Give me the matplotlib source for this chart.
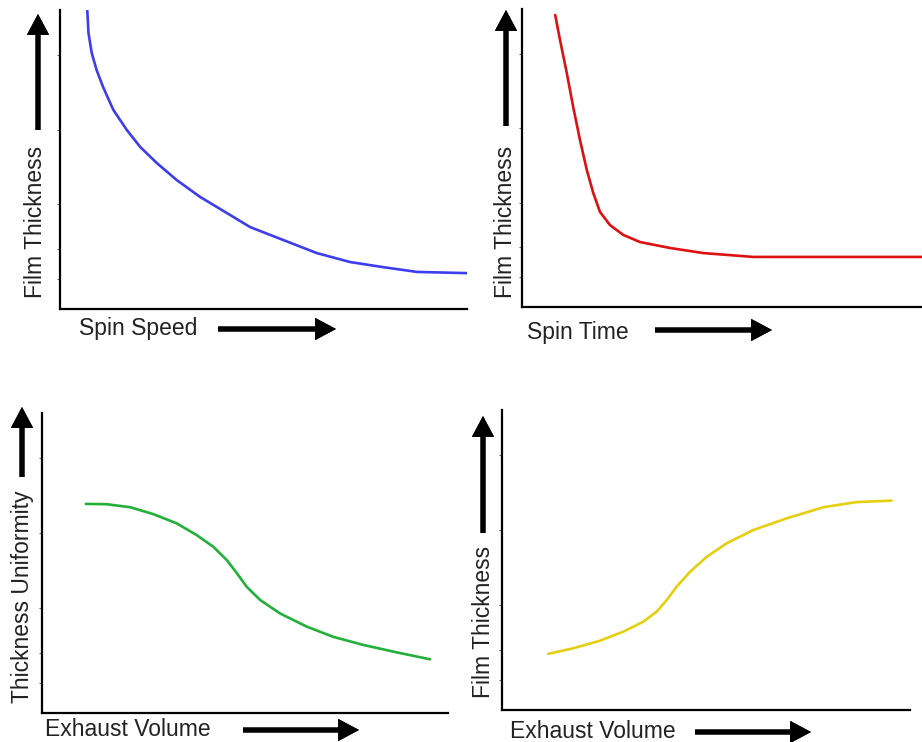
import matplotlib
matplotlib.use("Agg")
import matplotlib.pyplot as plt

plt.rcParams['font.family'] = ['Liberation Sans', 'DejaVu Sans']

W, H = 922, 742

# curves, x and y as fraction of each axis
speed_x = [0.067, 0.070, 0.078, 0.090, 0.106, 0.131, 0.164, 0.197, 0.238, 0.287, 0.344, 0.410, 0.467, 0.548, 0.631, 0.713, 0.794, 0.877, 1.0]
speed_y = [1.0, 0.923, 0.856, 0.799, 0.742, 0.666, 0.599, 0.542, 0.488, 0.431, 0.375, 0.321, 0.274, 0.231, 0.187, 0.157, 0.140, 0.124, 0.120]

time_x = [0.083, 0.095, 0.112, 0.128, 0.145, 0.162, 0.178, 0.195, 0.220, 0.253, 0.295, 0.370, 0.453, 0.578, 0.703, 0.850, 1.0]
time_y = [0.980, 0.896, 0.785, 0.671, 0.560, 0.460, 0.383, 0.319, 0.275, 0.242, 0.218, 0.198, 0.181, 0.168, 0.168, 0.168, 0.168]

unif_x = [0.108, 0.159, 0.217, 0.274, 0.332, 0.381, 0.422, 0.455, 0.480, 0.504, 0.537, 0.586, 0.652, 0.717, 0.791, 0.874, 0.956]
unif_y = [0.697, 0.696, 0.686, 0.663, 0.632, 0.593, 0.554, 0.510, 0.466, 0.421, 0.377, 0.332, 0.288, 0.254, 0.227, 0.202, 0.179]

exh_x = [0.113, 0.175, 0.240, 0.297, 0.346, 0.379, 0.404, 0.428, 0.461, 0.502, 0.551, 0.616, 0.698, 0.788, 0.869, 0.955]
exh_y = [0.187, 0.206, 0.231, 0.261, 0.294, 0.328, 0.367, 0.411, 0.461, 0.511, 0.556, 0.600, 0.639, 0.676, 0.693, 0.698]

x_labels = ['Spin Speed', 'Spin Time', 'Exhaust Volume', 'Exhaust Volume']
y_labels = ['Film Thickness', 'Film Thickness', 'Thickness Uniformity', 'Film Thickness']
colors = ['#3d3dee', '#dd1111', '#22b03a', '#e6cf10']
curves = [(speed_x, speed_y), (time_x, time_y), (unif_x, unif_y), (exh_x, exh_y)]

# pixel boxes of the axes: left, top, right, bottom
boxes = [(60, 10, 467, 309), (522, 9, 922, 307), (42, 413, 448, 713), (502, 410, 910, 710)]
# y label (x, y centre), x label (left, y), up arrow (x, tail, tip), right arrow (tail, tip, y)
ylab_pos = [(36, 222), (506, 222), (23, 597), (483, 622)]
xlab_pos = [(79, 329), (527, 332), (45, 730), (510, 731)]
up_arrows = [(38, 130, 14), (506, 126, 10), (22, 477, 407), (483, 533, 416)]
right_arrows = [(218, 336, 329), (655, 772, 330), (243, 359, 730), (695, 811, 732)]

fig = plt.figure(figsize=(W / 100, H / 100), dpi=100)

for i in range(4):
    l, t, r, b = boxes[i]
    ax = fig.add_axes([l / W, 1 - b / H, (r - l) / W, (b - t) / H])
    x, y = curves[i]
    ax.plot(x, y, color=colors[i], lw=1.9, solid_capstyle='round', solid_joinstyle='round')
    ax.set_xlim(0, 1)
    ax.set_ylim(0, 1)
    ax.spines['top'].set_visible(False)
    ax.spines['right'].set_visible(False)
    ax.spines['left'].set_linewidth(1.6)
    ax.spines['bottom'].set_linewidth(1.6)
    ax.set_xticks([])
    ax.set_yticks([0.1, 0.2, 0.35, 0.6, 0.85])
    ax.set_yticklabels([])
    ax.tick_params(axis='y', length=2, width=0.8, color='#666666')

    tx, ty = ylab_pos[i]
    fig.text(tx / W, 1 - ty / H, y_labels[i], rotation=90, ha='center', va='center',
             fontsize=16.5, color='#222222')
    tx, ty = xlab_pos[i]
    fig.text(tx / W, 1 - ty / H, x_labels[i], ha='left', va='center',
             fontsize=16.5, color='#222222')

    arrow = dict(width=3.6, headwidth=16, headlength=15, facecolor='black',
                 edgecolor='none', shrink=0)
    ax_, y0, y1 = up_arrows[i]
    fig.add_artist(plt.annotate('', xy=(ax_, H - y1), xytext=(ax_, H - y0),
                                xycoords='figure pixels', textcoords='figure pixels',
                                arrowprops=arrow))
    x0, x1, ay = right_arrows[i]
    fig.add_artist(plt.annotate('', xy=(x1, H - ay), xytext=(x0, H - ay),
                                xycoords='figure pixels', textcoords='figure pixels',
                                arrowprops=arrow))

fig.savefig('out.png', dpi=100)
